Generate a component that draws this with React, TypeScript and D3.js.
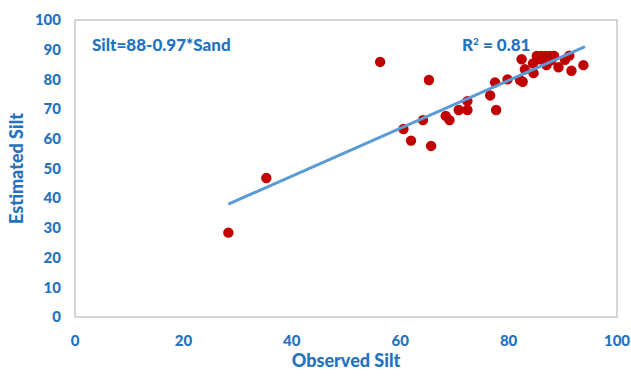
import React from "react";
import * as d3 from "d3";

const observed = [28.3, 35.3, 56.3, 65.3, 60.6, 62.0, 64.2, 65.7, 68.4, 69.1, 70.8, 72.4, 72.4, 76.6, 77.5, 77.7,
  79.8, 82.1, 82.4, 82.6, 83.0, 84.6, 84.5, 85.2, 86.0, 86.8, 87.6, 88.4, 85.8, 87.0, 87.9, 89.2, 90.4, 91.2, 91.6, 93.8];
const estimated = [28.4, 46.8, 85.9, 79.8, 63.3, 59.4, 66.3, 57.6, 67.7, 66.3, 69.7, 72.7, 69.7, 74.6, 79.0, 69.7,
  80.0, 79.8, 86.8, 79.2, 83.4, 82.1, 85.4, 87.9, 87.9, 87.9, 87.9, 87.9, 86.8, 84.8, 86.5, 84.1, 86.6, 88.0, 82.9, 84.8];
const trendX = [28.3, 94.1];
const trendY = [38.0, 91.0];
const xTicks = [0, 20, 40, 60, 80, 100];
const yTicks = [0, 10, 20, 30, 40, 50, 60, 70, 80, 90, 100];
const equation = "Silt=88-0.97*Sand";
const xTitle = "Observed Silt";
const yTitle = "Estimated Silt";

const W = 631, H = 376;
const L = 75, R = 617, T = 20, B = 317;
const blue = "#2372bf";
const font = "Lato, 'Open Sans', sans-serif";

export default function App() {
  const x = d3.scaleLinear().domain([0, 100]).range([L, R]);
  const y = d3.scaleLinear().domain([0, 100]).range([B, T]);
  const line = d3.line<number>().x((d, i) => x(trendX[i])).y((d, i) => y(trendY[i]));
  return (
    <svg width={W} height={H} style={{ position: "absolute", left: 0, top: 0, background: "#fff" }}>
      <rect x={L} y={T} width={R - L} height={B - T} fill="none" stroke="#c8c8c8" strokeWidth={1.5} />
      {yTicks.map(t => (
        <text key={"y" + t} x={L - 14} y={y(t)} dy="0.35em" textAnchor="end" fill={blue}
          fontFamily={font} fontWeight="900" fontSize={15}>{t}</text>
      ))}
      {xTicks.map(t => (
        <text key={"x" + t} x={x(t)} y={B + 24} dy="0.35em" textAnchor="middle" fill={blue}
          fontFamily={font} fontWeight="900" fontSize={15}>{t}</text>
      ))}
      <text x={(L + R) / 2} y={367} textAnchor="middle" fill={blue} fontFamily={font}
        fontWeight="900" fontSize={18}>{xTitle}</text>
      <text transform={`translate(23, ${(T + B) / 2}) rotate(-90)`} textAnchor="middle" fill={blue}
        fontFamily={font} fontWeight="900" fontSize={18}>{yTitle}</text>
      {observed.map((o, i) => (
        <circle key={i} cx={x(o)} cy={y(estimated[i])} r={5.2} fill="#c00000" />
      ))}
      <path d={line(trendX) || ""} stroke="#5b9bd5" strokeWidth={3} fill="none" />
      <text x={92} y={51} fill={blue} fontFamily={font} fontWeight="900" fontSize={17}>{equation}</text>
      <text x={462} y={51} fill={blue} fontFamily={font} fontWeight="900" fontSize={17}>
        R<tspan dy={-6} fontSize={10}>2</tspan><tspan dy={6}> = 0.81</tspan>
      </text>
    </svg>
  );
}
